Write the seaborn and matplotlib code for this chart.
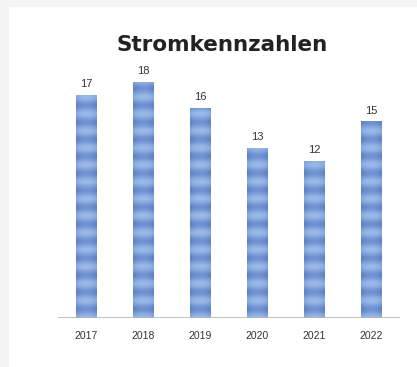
import numpy as np
import pandas as pd
import matplotlib
matplotlib.use("Agg")
import matplotlib.pyplot as plt
from matplotlib.colors import LinearSegmentedColormap
from matplotlib.patches import Rectangle
import seaborn as sns

# Werte aus dem Bild
jahre = ["2017", "2018", "2019", "2020", "2021", "2022"]
werte = [17, 18, 16, 13, 12, 15]

df = pd.DataFrame({"Jahr": jahre, "Wert": werte})

sns.set_style("white")
plt.rcParams['font.family'] = ['Liberation Sans', 'DejaVu Sans']

fig = plt.figure(figsize=(4.17, 3.67), dpi=100)
fig.patch.set_facecolor("#f4f4f4")
# weisse Flaeche mit leichtem Rand oben/links
bg = Rectangle((9 / 417, 0), 1, 360 / 367, transform=fig.transFigure,
               facecolor="white", edgecolor="none", zorder=-10)
fig.add_artist(bg)

ax = fig.add_axes([0.139, 0.1335, 0.82, 0.714])
ax.set_zorder(5)
ax.set_facecolor("none")

sns.barplot(data=df, x="Jahr", y="Wert", color="#7c9fd8", width=0.36, ax=ax,
            errorbar=None, saturation=1)

ax.set_ylim(0, 20)
ax.set_xlim(-0.5, 5.5)

# gestreifte Fuellung der Balken
cmap = LinearSegmentedColormap.from_list("streifen", ["#5577bd", "#82a4dd", "#b6d0f3"])
for p in list(ax.patches):
    x0, y0 = p.get_x(), p.get_y()
    w, h = p.get_width(), p.get_height()
    yy = np.linspace(0, h, 200)[:, None]
    xx = np.linspace(-1, 1, 40)[None, :]
    band = 0.5 + 0.5 * np.cos(2 * np.pi * yy / 1.3)
    tex = 0.3 + 0.45 * band - 0.2 * xx ** 2
    p.set_facecolor("none")
    im = ax.imshow(tex, extent=[x0, x0 + w, y0, y0 + h], origin="lower",
                   cmap=cmap, vmin=0, vmax=1, aspect="auto", zorder=2)
    im.set_clip_path(p)

ax.set_aspect("auto")
ax.set_xlim(-0.5, 5.5)
ax.set_ylim(0, 20)

for i, v in enumerate(werte):
    ax.text(i, v + 0.45, str(v), ha="center", va="bottom", fontsize=8, color="#333333")

ax.axhline(0, color="#b5b5b5", lw=1.2, zorder=3)
sns.despine(ax=ax, left=True, bottom=True)
ax.set_yticks([])
ax.set_xlabel("")
ax.set_ylabel("")
ax.tick_params(axis="x", length=0, pad=9, labelsize=7.5, labelcolor="#333333")

fig.text(0.533, 0.877, "Stromkennzahlen", ha="center", va="center",
         fontsize=15.5, fontweight="bold", color="#222222", family="DejaVu Sans")

fig.savefig("out.png", dpi=100)
